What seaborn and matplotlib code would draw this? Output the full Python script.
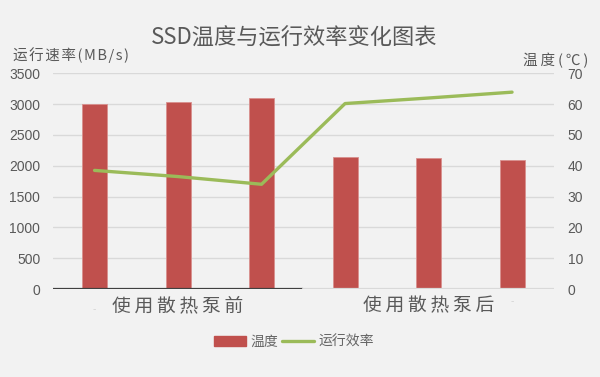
import matplotlib
matplotlib.use("Agg")
import matplotlib.pyplot as plt
import seaborn as sns
import pandas as pd
from matplotlib.patches import Patch
from matplotlib.lines import Line2D

# ---- data ----
bar_ids = ["前1", "前2", "前3", "后1", "后2", "后3"]
speed_values = [3000, 3040, 3095, 2150, 2120, 2100]      # 运行速率 (MB/s), left axis
temp_values = [38.5, 36.5, 34.0, 60.2, 62.0, 63.9]        # 温度 (℃), right axis
group_labels = ["使用散热泵前", "使用散热泵后"]
title_text = "SSD温度与运行效率变化图表"
left_label = "运行速率(MB/s)"
right_label = "温度(℃)"
legend_labels = ["温度", "运行效率"]
left_ticks = [0, 500, 1000, 1500, 2000, 2500, 3000, 3500]
right_ticks = [0, 10, 20, 30, 40, 50, 60, 70]

sns.set_theme(style="white")
plt.rcParams["font.family"] = ["Noto Sans CJK SC", "DejaVu Sans"]

BG = "#f2f2f2"
TXT = "#595959"
RED = "#c0504d"
GREEN = "#9bbb59"
GRID = "#d9d9d9"

fig = plt.figure(figsize=(6.0, 3.77), dpi=100, facecolor=BG)
ax = fig.add_axes([0.088, 0.2334, 0.835, 0.572])
ax.set_facecolor(BG)

df = pd.DataFrame({"id": bar_ids, "speed": speed_values, "temp": temp_values,
                   "pos": list(range(len(bar_ids)))})

sns.barplot(data=df, x="id", y="speed", color=RED, width=0.3, ax=ax,
            edgecolor="#d9908e", linewidth=0.6, saturation=1, zorder=3)
ax.set_xlim(-0.5, len(bar_ids) - 0.5)
ax.set_ylim(0, 3500)
ax.set_yticks(left_ticks)
ax.set_yticklabels([str(t) for t in left_ticks], fontsize=10, color=TXT,
                   family=["Liberation Sans", "DejaVu Sans"])
ax.tick_params(axis="y", length=0, pad=9)
ax.set_xticks([])
ax.set_xlabel("")
ax.set_ylabel("")
ax.grid(axis="y", color=GRID, linewidth=1, zorder=0)
ax.set_axisbelow(True)
for s in ax.spines.values():
    s.set_visible(False)
# baseline: dark under first group, light under second
ax.axhline(0, xmin=0, xmax=0.5, color="#404040", linewidth=1.6, zorder=4)
ax.axhline(0, xmin=0.5, xmax=1, color=GRID, linewidth=1.6, zorder=4)

ax2 = ax.twinx()
sns.lineplot(data=df, x="pos", y="temp", color=GREEN, linewidth=2.4, ax=ax2,
             zorder=5)
ax2.set_ylim(0, 70)
ax2.set_xlim(-0.5, len(bar_ids) - 0.5)
ax2.set_yticks(right_ticks)
ax2.set_yticklabels([str(t) for t in right_ticks], fontsize=10, color=TXT,
                    family=["Liberation Sans", "DejaVu Sans"])
ax2.tick_params(axis="y", length=0, pad=10)
ax2.set_ylabel("")
ax2.set_xlabel("")
for s in ax2.spines.values():
    s.set_visible(False)

# group labels
for i, lab in enumerate(group_labels):
    spaced = "\u2009".join(lab)
    ax.text(1 + 3 * i, -0.079, spaced, transform=ax.get_xaxis_transform(),
            ha="center", va="center", fontsize=13.5, color=TXT)
# faint dash marks
for xpos, yoff in [(0, -0.10), (5, -0.06)]:
    ax.text(xpos, yoff, "-", transform=ax.get_xaxis_transform(), ha="center",
            va="center", fontsize=7, color="#d4d4d4")

fig.text(0.491, 0.899, title_text, ha="center", va="center", fontsize=16,
         color=TXT)
fig.text(0.022, 0.854, "\u200a".join(left_label), ha="left", va="center",
         fontsize=10.5, color=TXT)
fig.text(0.98, 0.839, "\u2009".join(right_label), ha="right", va="center",
         fontsize=10.5, color=TXT)

handles = [Patch(facecolor=RED, edgecolor=RED),
           Line2D([0], [0], color=GREEN, linewidth=2.4)]
fig.legend(handles, legend_labels, loc="center", bbox_to_anchor=(0.49, 0.093),
           ncol=2, frameon=False, fontsize=10, handlelength=2.3,
           handletextpad=0.3, columnspacing=0.3, labelcolor="#666666")

fig.savefig("out.png", dpi=100, facecolor=BG)
